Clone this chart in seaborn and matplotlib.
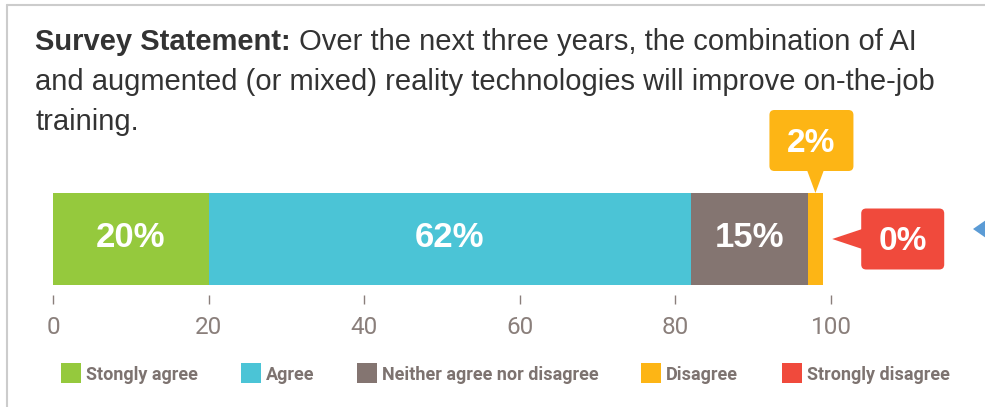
import matplotlib
matplotlib.use("Agg")
import matplotlib.pyplot as plt
import matplotlib.transforms as mtransforms
from matplotlib.patches import FancyBboxPatch, Polygon, Rectangle
from matplotlib.lines import Line2D
import seaborn as sns
import numpy as np
import pandas as pd

# ---------------- data ----------------
categories = ["Stongly agree", "Agree", "Neither agree nor disagree", "Disagree", "Strongly disagree"]
values = [20, 62, 15, 2, 0]
value_labels = ["20%", "62%", "15%", "2%", "0%"]
colors = ["#95c93d", "#4bc4d6", "#847571", "#fdb515", "#f04a3c"]
x_ticks = [0, 20, 40, 60, 80, 100]
title_bold = "Survey Statement:"
title_lines = [" Over the next three years, the combination of AI",
               "and augmented (or mixed) reality technologies will improve on-the-job",
               "training."]

# ---------------- layout helpers ----------------
W, H = 985, 407
sns.set_style("white")
plt.rcParams['font.family'] = ['Liberation Sans', 'DejaVu Sans']

fig = plt.figure(figsize=(W / 100, H / 100), dpi=100)
IDT = mtransforms.IdentityTransform()


def P(x, y):
    """pixel (from top-left) -> display coords"""
    return (x, H - y)


AX_L, AX_T, AX_B = 53, 100, 295
ax = fig.add_axes([AX_L / W, (H - AX_B) / H, (W - AX_L) / W, (AX_B - AX_T) / H])

cum = np.cumsum(values)
row = "statement"
df = pd.DataFrame({"row": [row] * len(values), "cum": cum, "category": categories})

# stacked horizontal bar: draw cumulative totals, largest first
for i in reversed(range(len(values))):
    sns.barplot(data=df.iloc[[i]], x="cum", y="row", color=colors[i], width=1.0,
                saturation=1, linewidth=0, orient="h", ax=ax)

PX_PER_UNIT = 7.78
BAR_C, BAR_H = 239, 92
ax.set_xlim(0, (W - AX_L) / PX_PER_UNIT)
ax.set_ylim((AX_B - BAR_C) / BAR_H, -(BAR_C - AX_T) / BAR_H)
for s in ax.spines.values():
    s.set_visible(False)
ax.set_xlabel("")
ax.set_ylabel("")
ax.set_yticks([])
ax.set_xticks(x_ticks)
ax.set_xticklabels([str(t) for t in x_ticks], fontfamily="Roboto")
ax.tick_params(axis="x", length=6.5, width=1, color="#8a7f7b", pad=8.5,
               labelsize=17.5, labelcolor="#8a7f7b", bottom=True)
ax.patch.set_alpha(0)

# bar value labels
for i, v in enumerate(values):
    if v >= 5:
        ax.text(cum[i] - v / 2, 0.087, value_labels[i], ha="center", va="baseline",
                color="white", fontsize=25, fontweight="bold")

# ---------------- callouts ----------------
def callout_up(tip, label, color):
    tx, ty = tip
    cx = tx - 4
    bw, bh = 84, 61
    box_bottom = ty + 22
    fig.add_artist(FancyBboxPatch((cx - bw / 2, box_bottom), bw, bh,
                                  boxstyle="round,pad=0,rounding_size=5",
                                  fc=color, ec="none", transform=IDT))
    fig.add_artist(Polygon([(tx - 8.5, box_bottom + 1), (tx + 8.5, box_bottom + 1), (tx, ty)],
                           closed=True, fc=color, ec="none", transform=IDT))
    fig.text(cx, box_bottom + bh / 2 - 12, label, ha="center", va="baseline",
             color="white", fontsize=24, fontweight="bold", transform=IDT)


def callout_left(tip, label, color):
    tx, ty = tip
    bx = tx + 29
    bw, bh = 83, 61
    fig.add_artist(FancyBboxPatch((bx, ty - bh / 2), bw, bh,
                                  boxstyle="round,pad=0,rounding_size=5",
                                  fc=color, ec="none", transform=IDT))
    fig.add_artist(Polygon([(bx + 1, ty + 10), (bx + 1, ty - 10), (tx, ty)],
                           closed=True, fc=color, ec="none", transform=IDT))
    fig.text(bx + bw / 2, ty - 11, label, ha="center", va="baseline",
             color="white", fontsize=24, fontweight="bold", transform=IDT)


tip2 = ax.transData.transform((cum[3] - values[3] / 2, -0.5))
callout_up(tip2, value_labels[3], colors[3])
tip0 = ax.transData.transform((cum[4], 0))
tip0 = (tip0[0] + 9, tip0[1])
callout_left(tip0, value_labels[4], colors[4])

# partial blue arrow at right edge
fig.add_artist(Polygon([P(973, 229), P(986, 220), P(986, 238)], closed=True,
                       fc="#5b9bd5", ec="none", transform=IDT))

# ---------------- frame lines ----------------
fig.add_artist(Line2D([7, 7], [H - 5, 0], color="#cccccc", lw=1.5, transform=IDT))
fig.add_artist(Line2D([7, W], [H - 5, H - 5], color="#cccccc", lw=1.5, transform=IDT))

# ---------------- title text ----------------
renderer = fig.canvas.get_renderer()
TCOL = "#333333"
TSIZE = 21
BASELINES = [50, 90, 130]
bt = fig.text(*P(35, BASELINES[0]), title_bold, fontsize=TSIZE, fontweight="bold", color=TCOL,
              ha="left", va="baseline", transform=IDT)
bb = bt.get_window_extent(renderer)
fig.text(bb.x1, H - BASELINES[0], title_lines[0], fontsize=TSIZE, color=TCOL,
         ha="left", va="baseline", transform=IDT)
fig.text(*P(35, BASELINES[1]), title_lines[1], fontsize=TSIZE, color=TCOL,
         ha="left", va="baseline", transform=IDT)
fig.text(*P(35, BASELINES[2]), title_lines[2], fontsize=TSIZE, color=TCOL,
         ha="left", va="baseline", transform=IDT)

# ---------------- legend ----------------
leg_x = [61, 241, 357, 641, 782]
for i, cat in enumerate(categories):
    fig.add_artist(Rectangle(P(leg_x[i], 383), 20, 20, fc=colors[i], ec="none", transform=IDT))
    fig.text(*P(leg_x[i] + 25, 380), cat, fontsize=13, fontweight="bold",
             fontfamily="Roboto", color="#7d7370", ha="left", va="baseline", transform=IDT)

fig.savefig("out.png", dpi=100)
